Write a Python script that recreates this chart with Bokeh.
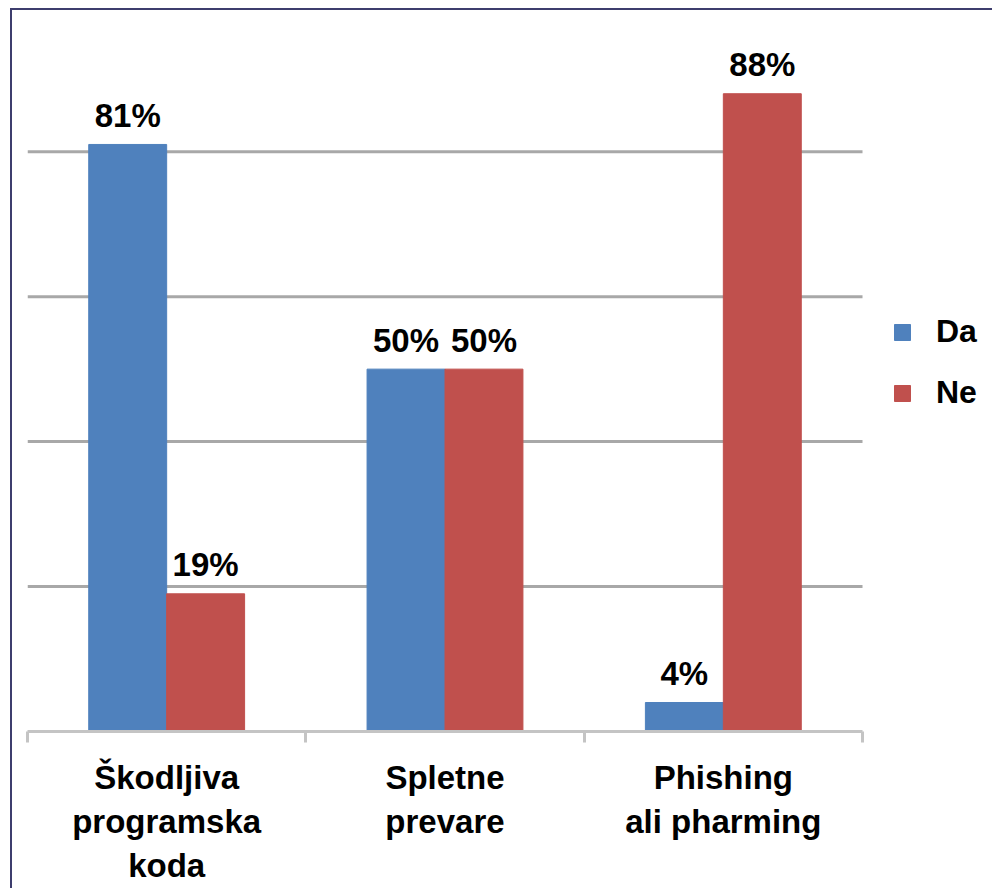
from bokeh.plotting import figure
from bokeh.models import (Range1d, LinearAxis, FixedTicker, Grid, Legend, LegendItem,
                          ColumnDataSource)
from bokeh.transform import dodge
from bokeh.embed import file_html
from bokeh.resources import INLINE
from bokeh.core.properties import value

# ---- data ----
categories = ["Škodljiva\nprogramska\nkoda", "Spletne\nprevare", "Phishing\nali pharming"]
series_names = ["Da", "Ne"]
da_values = [81, 50, 4]
ne_values = [19, 50, 88]
grid_ticks = [20, 40, 60, 80]

BLUE = "#4F81BD"
RED = "#C0504D"
FONT = "Liberation Sans"

n = len(categories)
centers = [i + 0.5 for i in range(n)]       # category slots on a 0..n scale
bounds = list(range(n + 1))                 # category boundaries (tick marks)

# layout: plot area of the bars is 835 px wide; the frame continues to the right
# so that the legend can sit beside the bars
PLOT_W, FRAME_W = 835, 963

src = ColumnDataSource(dict(
    pos=centers,
    da=da_values,
    ne=ne_values,
    da_lbl=[f"{v}%" for v in da_values],
    ne_lbl=[f"{v}%" for v in ne_values],
))

p = figure(x_range=Range1d(0, n * FRAME_W / PLOT_W), y_range=Range1d(0, 97),
           width=982, height=880,
           x_axis_location=None, y_axis_location=None,
           output_backend="svg", toolbar_location=None,
           min_border_left=15, min_border_top=18, min_border_right=4, min_border_bottom=159)
p.outline_line_color = None
p.background_fill_color = "white"
p.border_fill_color = "white"
p.styles = {"border-left": "2px solid #3d3d6d", "border-top": "2px solid #3d3d6d",
            "margin-left": "10px", "margin-top": "8px"}

# no default grids; horizontal gridlines across the category slots only
p.center = [r for r in p.center if not isinstance(r, Grid)]
p.segment(x0=[bounds[0]] * len(grid_ticks), x1=[bounds[-1]] * len(grid_ticks),
          y0=grid_ticks, y1=grid_ticks, line_color="#a8a8a8", line_width=3)

# bars
w = 0.28
r_da = p.vbar(x=dodge("pos", -w / 2), top="da", width=w, bottom=0,
              source=src, fill_color=BLUE, line_color=BLUE)
r_ne = p.vbar(x=dodge("pos", w / 2), top="ne", width=w, bottom=0,
              source=src, fill_color=RED, line_color=RED)

# data labels
for col, lbl, off in (("da", "da_lbl", -w / 2), ("ne", "ne_lbl", w / 2)):
    p.text(x=dodge("pos", off), y=col, text=lbl, source=src,
           text_align="center", text_baseline="alphabetic", y_offset=-29,
           text_font=value(FONT), text_font_style="bold", text_font_size="33px",
           text_color="black")

# category axis: labels at slot centres, minor ticks at slot boundaries
cat_axis = LinearAxis(ticker=FixedTicker(ticks=centers, minor_ticks=bounds),
                      bounds=(bounds[0], bounds[-1]),
                      major_label_overrides={c: lab for c, lab in zip(centers, categories)},
                      axis_line_color="#c4c4c4", axis_line_width=3,
                      major_tick_line_color=None, major_tick_out=0, major_tick_in=0,
                      minor_tick_line_color="#c4c4c4", minor_tick_line_width=3,
                      minor_tick_out=11, minor_tick_in=0,
                      major_label_text_font=FONT, major_label_text_font_style="bold",
                      major_label_text_font_size="33px", major_label_text_color="black",
                      major_label_standoff=16)
p.add_layout(cat_axis, "below")

legend = Legend(items=[LegendItem(label=series_names[0], renderers=[r_da]),
                       LegendItem(label=series_names[1], renderers=[r_ne])],
                location=(865, 320), orientation="vertical",
                glyph_width=20, glyph_height=20, label_standoff=24, spacing=24,
                margin=0, padding=10, border_line_color=None, background_fill_alpha=0,
                label_text_font=FONT, label_text_font_style="bold",
                label_text_font_size="32px", label_text_color="black")
p.add_layout(legend, "center")

open("out.html", "w").write(file_html(p, INLINE))
